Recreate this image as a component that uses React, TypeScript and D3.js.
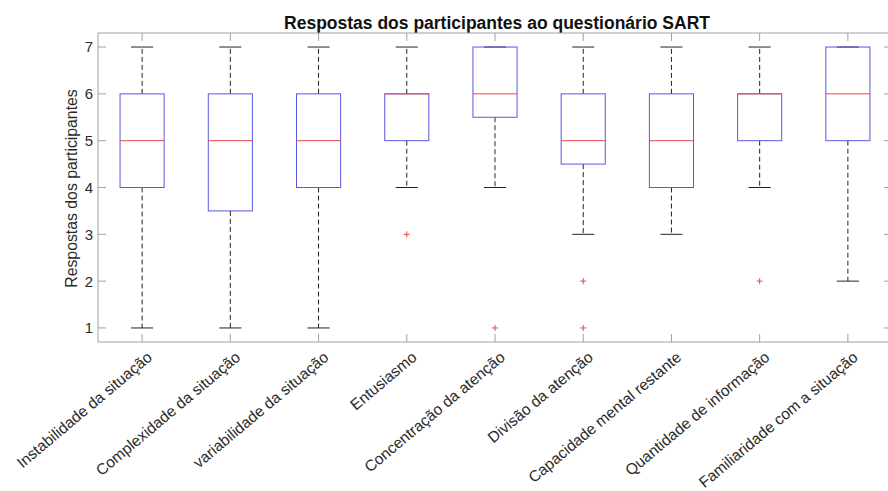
import React from "react";
import * as d3 from "d3";

const categories = [
  "Instabilidade da situação",
  "Complexidade da situação",
  "variabilidade da situação",
  "Entusiasmo",
  "Concentração da atenção",
  "Divisão da atenção",
  "Capacidade mental restante",
  "Quantidade de informação",
  "Familiaridade com a situação",
];
const whiskerLow = [1, 1, 1, 4, 4, 3, 3, 4, 2];
const q1 = [4, 3.5, 4, 5, 5.5, 4.5, 4, 5, 5];
const median = [5, 5, 5, 6, 6, 5, 5, 6, 6];
const q3 = [6, 6, 6, 6, 7, 6, 6, 6, 7];
const whiskerHigh = [7, 7, 7, 7, 7, 7, 7, 7, 7];
const outliers: number[][] = [[], [], [], [3], [1], [2, 1], [], [2], []];
const yTicks = [1, 2, 3, 4, 5, 6, 7];

const W = 888;
const H = 491;
const left = 98;
const right = 892;
const top = 33;
const bottom = 342;
const FONT = "Liberation Sans, Arial, Helvetica, sans-serif";

export default function App() {
  const x = d3.scaleLinear().domain([0.5, categories.length + 0.5]).range([left, right]);
  const y = d3.scaleLinear().domain([0.7, 7.3]).range([bottom, top]);
  const unit = x(1) - x(0);
  const boxHalf = unit * 0.25;
  const capHalf = unit * 0.125;
  const tickLen = 8;
  const axisColor = "#a0a0a0";
  const boxColor = "#5858e0";
  const medColor = "#e84848";
  const textColor = "#2a2a2a";

  return (
    <svg width={W} height={H} style={{ position: "absolute", left: 0, top: 0, background: "#fff" }}>
      <rect x={0} y={0} width={W} height={H} fill="#fff" />
      {/* title */}
      <text x={(left + right) / 2 + 2} y={29} textAnchor="middle" fontFamily={FONT} fontWeight="bold" fontSize={17.5} fill="#111">
        Respostas dos participantes ao questionário SART
      </text>
      {/* axes box */}
      <line x1={left} x2={right} y1={top} y2={top} stroke={axisColor} strokeWidth={1} />
      <line x1={left} x2={right} y1={bottom} y2={bottom} stroke={axisColor} strokeWidth={1} />
      <line x1={left} x2={left} y1={top} y2={bottom} stroke={axisColor} strokeWidth={1} />
      <line x1={right} x2={right} y1={top} y2={bottom} stroke={axisColor} strokeWidth={1} />
      {/* y ticks */}
      {yTicks.map((t) => (
        <g key={"yt" + t}>
          <line x1={left} x2={left + tickLen} y1={y(t)} y2={y(t)} stroke={axisColor} />
          <line x1={right} x2={right - tickLen} y1={y(t)} y2={y(t)} stroke={axisColor} />
          <text x={left - 5} y={y(t)} dy="0.36em" textAnchor="end" fontFamily={FONT} fontSize={15} fill={textColor}>
            {t}
          </text>
        </g>
      ))}
      {/* y label */}
      <text
        transform={`translate(77,${(top + bottom) / 2 + 1}) rotate(-90)`}
        textAnchor="middle"
        fontFamily={FONT}
        fontSize={15.8}
        fill={textColor}
      >
        Respostas dos participantes
      </text>
      {/* x ticks and labels */}
      {categories.map((c, i) => {
        const cx = x(i + 1);
        return (
          <g key={"xt" + i}>
            <line x1={cx} x2={cx} y1={bottom} y2={bottom - tickLen} stroke={axisColor} />
            <line x1={cx} x2={cx} y1={top} y2={top + tickLen} stroke={axisColor} />
            <text
              transform={`translate(${cx + 11},${bottom + 17}) rotate(-40)`}
              textAnchor="end"
              fontFamily={FONT}
              fontSize={15.5}
              fill={textColor}
            >
              {c}
            </text>
          </g>
        );
      })}
      {/* boxes */}
      {categories.map((c, i) => {
        const cx = x(i + 1);
        return (
          <g key={"b" + i}>
            {whiskerHigh[i] > q3[i] && (
              <line x1={cx} x2={cx} y1={y(q3[i])} y2={y(whiskerHigh[i])} stroke="#222" strokeDasharray="5,3" />
            )}
            {whiskerLow[i] < q1[i] && (
              <line x1={cx} x2={cx} y1={y(q1[i])} y2={y(whiskerLow[i])} stroke="#222" strokeDasharray="5,3" />
            )}
            <line x1={cx - capHalf} x2={cx + capHalf} y1={y(whiskerHigh[i])} y2={y(whiskerHigh[i])} stroke="#222" />
            <line x1={cx - capHalf} x2={cx + capHalf} y1={y(whiskerLow[i])} y2={y(whiskerLow[i])} stroke="#222" />
            <rect
              x={cx - boxHalf}
              y={y(q3[i])}
              width={boxHalf * 2}
              height={y(q1[i]) - y(q3[i])}
              fill="none"
              stroke={boxColor}
            />
            <line x1={cx - boxHalf} x2={cx + boxHalf} y1={y(median[i])} y2={y(median[i])} stroke={medColor} />
            {outliers[i].map((o, k) => (
              <g key={k}>
                <line x1={cx - 3} x2={cx + 3} y1={y(o)} y2={y(o)} stroke={medColor} />
                <line x1={cx} x2={cx} y1={y(o) - 3} y2={y(o) + 3} stroke={medColor} />
              </g>
            ))}
          </g>
        );
      })}
    </svg>
  );
}
